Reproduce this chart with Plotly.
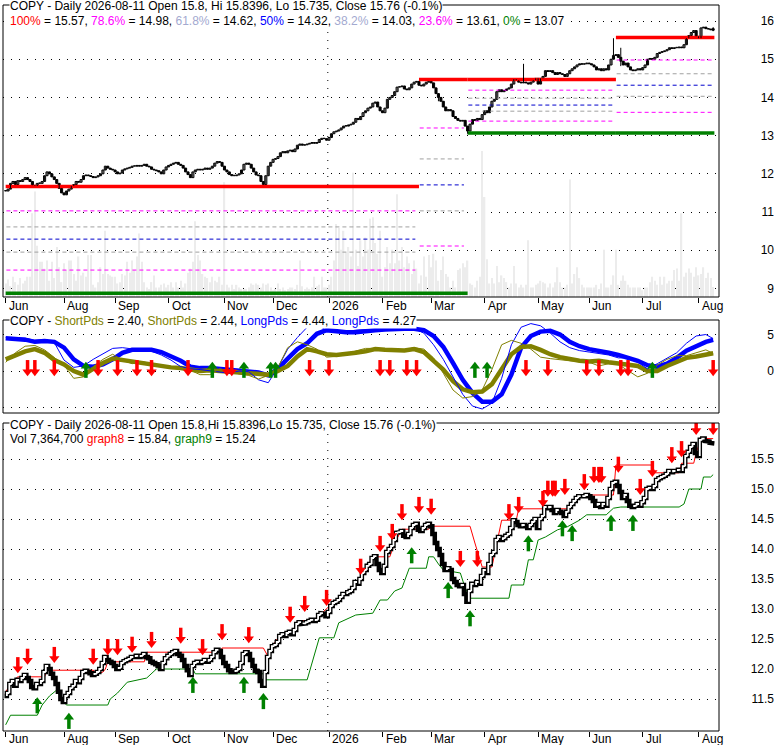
import pandas as pd
import plotly.graph_objects as go

# ---------------------------------------------------------------- data
dates = pd.bdate_range("2025-06-30", "2026-08-11")

close_jul25 = [11.55, 11.6, 11.75, 11.8, 11.72, 11.82, 11.8, 11.85, 11.9, 11.85, 11.8, 11.7,
               11.68, 11.75, 11.75, 11.8, 11.95, 12.05, 12.0, 11.92, 11.85, 11.75, 11.62, 11.5]
close_aug25 = [11.45, 11.55, 11.6, 11.68, 11.72, 11.8, 11.78, 11.85, 11.95, 11.97, 11.95, 11.93,
               11.9, 11.92, 11.95, 12.0, 12.1, 12.2, 12.15, 12.12, 12.1]
close_sep25 = [12.05, 12.0, 12.02, 12.1, 12.13, 12.15, 12.17, 12.2, 12.2, 12.22, 12.2, 12.22,
               12.25, 12.2, 12.18, 12.12, 12.1, 12.08, 12.05, 12.0, 12.1, 12.18]
close_oct25 = [12.22, 12.25, 12.28, 12.3, 12.25, 12.22, 12.15, 12.05, 11.98, 11.9, 12.05, 12.1,
               12.12, 12.1, 12.12, 12.15, 12.12, 12.15, 12.2, 12.28, 12.32, 12.3, 12.2]
close_nov25 = [12.1, 12.05, 11.98, 11.95, 11.95, 11.97, 12.0, 12.1, 12.25, 12.28, 12.25, 12.15,
               12.05, 11.97, 11.95, 11.8, 11.72, 11.95, 12.2, 12.3]
close_dec25 = [12.38, 12.4, 12.45, 12.55, 12.58, 12.55, 12.6, 12.62, 12.58, 12.65, 12.75, 12.78,
               12.75, 12.76, 12.78, 12.8, 12.82, 12.8, 12.82, 12.9, 12.93, 12.92, 12.88]
close_jan26 = [12.95, 13.05, 13.1, 13.12, 13.15, 13.2, 13.25, 13.25, 13.28, 13.3, 13.35, 13.45,
               13.42, 13.5, 13.6, 13.65, 13.72, 13.75, 13.85, 13.88, 13.75, 13.65]
close_feb26 = [13.6, 13.72, 13.95, 14.0, 14.05, 14.15, 14.27, 14.28, 14.3, 14.22, 14.2, 14.25,
               14.35, 14.4, 14.42, 14.32, 14.3, 14.35, 14.4, 14.42]
close_mar26 = [14.38, 14.25, 14.1, 14.0, 13.9, 13.75, 13.65, 13.68, 13.65, 13.5, 13.45, 13.4,
               13.38, 13.4, 13.25, 13.12, 13.3, 13.42, 13.4, 13.45, 13.42, 13.55]
close_apr26 = [13.65, 13.6, 13.75, 13.9, 13.95, 14.15, 14.2, 14.15, 14.18, 14.22, 14.25, 14.35,
               14.48, 14.45, 14.4, 14.38, 14.4, 14.38, 14.35, 14.4, 14.45, 14.5]
close_may26 = [14.35, 14.5, 14.55, 14.7, 14.68, 14.7, 14.65, 14.6, 14.65, 14.62, 14.6, 14.55,
               14.62, 14.7, 14.75, 14.8, 14.85, 14.88, 14.87, 14.88, 14.9]
close_jun26 = [14.88, 14.85, 14.8, 14.72, 14.75, 14.7, 14.75, 14.72, 14.85, 15.0, 15.1, 15.12,
               15.05, 14.95, 14.85, 14.9, 14.8, 14.72, 14.7, 14.72, 14.75, 14.72]
close_jul26 = [14.78, 14.85, 15.0, 15.02, 15.0, 15.05, 15.15, 15.18, 15.2, 15.22, 15.25, 15.3,
               15.28, 15.3, 15.3, 15.32, 15.3, 15.38, 15.55, 15.62, 15.7, 15.75, 15.6]
close_aug26 = [15.55, 15.82, 15.84, 15.8, 15.79, 15.77, 15.76]

closes = (close_jul25 + close_aug25 + close_sep25 + close_oct25 + close_nov25 + close_dec25 +
          close_jan26 + close_feb26 + close_mar26 + close_apr26 + close_may26 + close_jun26 +
          close_jul26 + close_aug26)

# volume, millions of shares
vol_jul25 = [10, 13, 8, 15, 11, 9, 14, 10, 12, 15, 15, 62, 78, 38, 26, 26, 21, 27, 12, 26, 14, 37, 22, 11]
vol_aug25 = [25, 20, 27, 27, 17, 12, 30, 16, 18, 15, 31, 31, 9, 7, 11, 22, 17, 49, 17, 16, 15]
vol_sep25 = [15, 10, 11, 17, 16, 26, 18, 27, 20, 30, 47, 26, 11, 7, 6, 11, 16, 7, 7, 9, 10, 7]
vol_oct25 = [9, 11, 7, 11, 7, 12, 7, 10, 18, 21, 26, 56, 31, 27, 17, 15, 14, 11, 15, 12, 11, 15, 9]
vol_nov25 = [85, 9, 7, 9, 6, 9, 7, 6, 6, 6, 7, 10, 9, 10, 9, 7, 10, 9, 10, 7]
vol_dec25 = [5, 6, 10, 6, 7, 5, 6, 7, 7, 6, 9, 27, 8, 6, 7, 6, 7, 15, 8, 9, 15, 7, 7]
vol_jan26 = [9, 15, 27, 54, 51, 35, 49, 33, 37, 30, 92, 35, 23, 42, 30, 44, 35, 58, 59, 40, 32, 49]
vol_feb26 = [15, 22, 37, 25, 35, 25, 76, 27, 37, 22, 30, 25, 17, 27, 21, 10, 16, 30, 15, 31]
vol_mar26 = [22, 32, 27, 12, 20, 30, 17, 15, 7, 12, 7, 20, 21, 25, 22, 27, 10, 9, 7, 12, 15, 108]
vol_apr26 = [74, 28, 10, 14, 10, 23, 11, 16, 14, 11, 7, 10, 23, 10, 7, 9, 7, 9, 42, 7, 7, 9]
vol_may26 = [10, 12, 11, 10, 7, 10, 7, 11, 22, 11, 7, 7, 9, 87, 10, 17, 22, 14, 9, 7, 7]
vol_jun26 = [7, 7, 7, 9, 6, 10, 35, 7, 7, 9, 16, 35, 9, 12, 16, 12, 9, 7, 7, 7, 7, 7]
vol_jul26 = [5, 7, 7, 11, 15, 12, 9, 15, 9, 15, 10, 12, 12, 20, 21, 12, 62, 15, 18, 21, 18, 15, 22]
vol_aug26 = [16, 17, 22, 14, 18, 14, 7.3647]

volumes = (vol_jul25 + vol_aug25 + vol_sep25 + vol_oct25 + vol_nov25 + vol_dec25 + vol_jan26 +
           vol_feb26 + vol_mar26 + vol_apr26 + vol_may26 + vol_jun26 + vol_jul26 + vol_aug26)

last_open, last_high, last_low = 15.8, 15.8396, 15.735
wick_high = {213: 14.88, 250: 15.55, 253: 15.3}
wick_low = {190: 13.05, 178: 13.9, 253: 14.82}

# fibonacci segments: first bar, last bar, 0% level, 100% level, inner levels (23.6 .. 78.6)
fib_start = [0, 170, 190, 251]
fib_end = [170, 190, 251, 291]
fib_lo = [8.87, 8.87, 13.07, 13.07]
fib_hi = [11.67, 14.47, 14.47, 15.57]
fib_mid = [[9.48, 9.95, 10.29, 10.61, 11.03],
           [10.11, 11.03, 11.71, 12.39, 13.2],
           [13.38, 13.64, 13.8, 13.98, 14.19],
           [13.61, 14.03, 14.32, 14.62, 14.98]]

# oscillator panel, one value every 4 bars (plus the last bar)
osc_idx = list(range(0, 289, 4)) + [291]
long_thick = [4.5, 4.4, 4.3, 4.0, 4.1, 4.0, 3.2, 1.6, 0.7, 0.6, 0.9, 1.6, 2.5, 2.9, 2.9, 2.9, 2.6, 2.0,
              1.4, 0.6, 0.4, 0.4, 0.3, 0.1, 0.1, 0.0, -0.2, -0.6, 0.3, 1.7, 3.0, 3.8, 5.1, 5.6, 5.4, 5.3,
              5.3, 5.5, 5.6, 5.7, 5.8, 5.8, 5.8, 5.6, 4.8, 3.3, 1.1, -1.2, -3.0, -4.2, -4.2, -3.2, -0.5,
              3.2, 4.8, 5.4, 5.5, 5.0, 4.0, 3.4, 3.0, 2.8, 2.5, 2.2, 1.8, 1.4, 0.8, 0.6, 1.0, 1.8, 2.8,
              3.4, 4.0, 4.27]
long_thin = [4.6, 4.6, 4.5, 4.2, 4.3, 3.9, 1.5, 0.5, 0.7, 1.6, 2.4, 3.1, 3.2, 3.0, 2.9, 2.7, 2.2, 1.5,
             0.6, 0.3, 0.2, 0.0, -0.2, -0.3, 0.0, -0.1, -1.2, -1.6, 0.5, 3.0, 4.6, 6.0, 6.3, 5.6, 5.5,
             5.4, 5.6, 5.7, 5.8, 5.8, 5.8, 5.8, 5.8, 5.2, 3.6, 1.6, -0.8, -3.2, -4.8, -5.2, -4.4, -1.0,
             3.6, 6.0, 6.5, 6.2, 5.2, 4.0, 3.2, 2.8, 2.6, 2.4, 2.2, 1.8, 1.8, 1.2, 0.3, 1.0, 1.7, 2.5,
             3.8, 4.8, 5.0, 4.44]
short_thick = [1.6, 2.2, 2.7, 3.0, 2.5, 1.5, 0.9, 0.0, -0.5, 0.3, 1.1, 1.7, 1.5, 1.3, 1.1, 0.9, 0.6,
               0.5, 0.4, 0.2, 0.0, 0.1, 0.0, -0.2, -0.3, -0.4, -0.5, -0.5, 0.0, 0.7, 2.0, 3.0, 2.7, 2.3,
               2.2, 2.3, 2.5, 2.7, 3.0, 2.9, 2.8, 2.8, 3.0, 2.6, 1.4, 0.2, -1.4, -2.5, -2.9, -2.8, -1.8,
               0.2, 2.3, 3.3, 3.4, 2.9, 2.3, 1.9, 1.6, 1.4, 1.3, 1.4, 1.2, 1.0, 0.9, 0.7, 0.0, 0.0, 0.7,
               1.3, 1.8, 2.0, 2.3, 2.44]
short_thin = [1.2, 2.5, 3.4, 3.5, 2.9, 1.8, 0.8, -1.0, -0.8, 0.6, 1.6, 2.3, 1.5, 1.0, 1.3, 1.0, 0.7,
              0.6, 0.5, 0.1, -0.5, -0.5, 0.3, 0.0, -0.4, -0.6, -1.1, -0.6, 0.5, 3.2, 4.0, 3.6, 3.0, 1.9,
              2.0, 2.4, 2.8, 3.1, 3.1, 3.0, 2.9, 2.9, 3.2, 3.0, 1.8, -0.3, -2.6, -3.7, -3.5, -2.6, 0.2,
              3.6, 4.2, 3.8, 3.0, 1.9, 1.7, 1.5, 1.4, 1.3, 1.2, 0.7, 1.0, 0.9, 0.0, -0.8, -0.3, 0.8, 1.6,
              2.1, 2.1, 2.5, 2.9, 2.4]
osc_sell = [9, 12, 20, 38, 46, 54, 60, 75, 91, 93, 125, 133, 154, 158, 165, 169, 214, 223, 239, 244,
            253, 256, 291]
osc_buy = [33, 85, 98, 109, 111, 193, 198, 266]

# bottom panel: red / green bands (bar, value) and arrow signals (bar, tip price)
graph8 = [(0, 11.62), (3, 11.8), (5, 11.87), (16, 11.87), (17, 11.98), (36, 11.98), (38, 11.92),
          (40, 11.95), (41, 12.0), (42, 12.12), (57, 12.12), (58, 12.28), (88, 12.28), (89, 12.35),
          (106, 12.35), (108, 12.2), (110, 12.4), (113, 12.58), (118, 12.62), (120, 12.8), (128, 12.82),
          (130, 12.93), (134, 13.08), (139, 13.25), (143, 13.35), (146, 13.5), (149, 13.72),
          (151, 13.87), (158, 13.87), (160, 14.1), (163, 14.33), (174, 14.33), (175, 14.38),
          (191, 14.38), (193, 14.1), (196, 13.7), (200, 13.7), (202, 14.1), (204, 14.48), (210, 14.48),
          (211, 14.67), (231, 14.67), (233, 14.72), (235, 14.9), (250, 14.9), (251, 15.4), (266, 15.4),
          (267, 15.27), (277, 15.27), (278, 15.43), (283, 15.43), (284, 15.6), (286, 15.84), (291, 15.84)]
graph9 = [(0, 11.07), (2, 11.23), (13, 11.23), (15, 11.4), (18, 11.55), (21, 11.65), (23, 11.5),
          (25, 11.4), (42, 11.4), (43, 11.5), (46, 11.6), (50, 11.78), (58, 11.85), (62, 12.0),
          (77, 12.0), (78, 11.92), (106, 11.92), (107, 11.82), (124, 11.82), (126, 12.1), (128, 12.35),
          (129, 12.52), (135, 12.52), (137, 12.77), (144, 12.9), (151, 12.93), (154, 13.15),
          (157, 13.15), (160, 13.3), (163, 13.35), (166, 13.68), (173, 13.68), (174, 13.87),
          (176, 13.87), (178, 13.75), (180, 13.65), (187, 13.6), (189, 13.35), (191, 13.18),
          (207, 13.18), (208, 13.4), (213, 13.4), (215, 13.82), (217, 13.82), (219, 14.15), (222, 14.2),
          (227, 14.32), (231, 14.37), (236, 14.48), (239, 14.57), (247, 14.57), (250, 14.68),
          (253, 14.7), (277, 14.7), (279, 14.75), (281, 15.0), (286, 15.0), (287, 15.2), (290, 15.2),
          (291, 15.24)]
sell_sig = [(5, 11.93), (9, 12.07), (20, 12.1), (36, 12.07), (42, 12.23), (46, 12.23), (52, 12.27),
            (60, 12.35), (72, 12.42), (81, 12.23), (89, 12.48), (100, 12.43), (117, 12.77), (123, 12.95),
            (132, 13.05), (146, 13.57), (154, 13.95), (159, 14.15), (163, 14.48), (170, 14.6),
            (175, 14.57), (187, 13.7), (194, 13.7), (207, 14.48), (211, 14.6), (221, 14.7), (223, 14.87),
            (225, 14.87), (226, 14.87), (230, 14.9), (238, 14.98), (242, 15.1), (244, 15.1), (245, 15.1),
            (252, 15.27), (261, 14.9), (266, 15.2), (274, 15.43), (278, 15.53), (284, 15.9), (291, 15.9)]
buy_sig = [(13, 11.53), (26, 11.27), (77, 11.87), (98, 11.87), (106, 11.6), (167, 14.03), (182, 13.45),
           (191, 12.98), (215, 14.23), (229, 14.48), (233, 14.4), (249, 14.57), (258, 14.57)]

month_dates = ["2025-06-30", "2025-08-01", "2025-09-01", "2025-10-01", "2025-11-03", "2025-12-01",
               "2026-01-01", "2026-02-02", "2026-03-02", "2026-04-01", "2026-05-01", "2026-06-01",
               "2026-07-01", "2026-08-03"]
month_labels = ["Jun", "Aug", "Sep", "Oct", "Nov", "Dec", "2026", "Feb", "Mar", "Apr", "May", "Jun",
                "Jul", "Aug"]

# ---------------------------------------------------------------- geometry
ML, PW, PH = 3, 777, 731          # plot area (page is 780 x 745)
def fx(px): return (px - ML) / PW
def fy(py): return 1 - py / PH

P1, P2, P3 = (5, 297), (320, 413), (423, 731)
R1, R2, R3 = [8.775, 16.42], [-5.75, 6.99], [10.967, 16.1]
XR = [-1.1, 293.4]
XDOM = [0, fx(719)]
ppu2 = (P2[1] - P2[0]) / (R2[1] - R2[0])
ppu3 = (P3[1] - P3[0]) / (R3[1] - R3[0])

FONT = "Arial, Liberation Sans, sans-serif"
RED, GREEN, MAG, GRAY, BLUE, OLIVE = "#ff0000", "#008000", "#ff00ff", "#a0a0a0", "#0000cc", "#808000"

N = len(closes)
idx = list(range(N))
tick_idx = [int(dates.searchsorted(pd.Timestamp(d))) for d in month_dates]
year_idx = tick_idx[6]

opens = [closes[0]] + closes[:-1]
opens[-1] = last_open
highs = [max(o, c) for o, c in zip(opens, closes)]
lows = [min(o, c) for o, c in zip(opens, closes)]
for k, v in wick_high.items():
    highs[k] = v
for k, v in wick_low.items():
    lows[k] = v
highs[-1], lows[-1] = last_high, last_low

fig = go.Figure()

# ---- top panel: volume, fibonacci levels, candles
fig.add_trace(go.Bar(x=idx, y=volumes, xaxis="x", yaxis="y", marker_color="#ececec",
                     marker_line_width=0, width=0.55, hoverinfo="skip"))

mid_colors = [MAG, GRAY, BLUE, GRAY, MAG]
for s, e, lo, hi, mids in zip(fib_start, fib_end, fib_lo, fib_hi, fib_mid):
    last = e == fib_end[-1]
    x1 = e + 0.5 if last else e
    d0, d1 = s + 0.3, (e + 0.5 if last else e - 1.5)
    for lvl, col in zip(mids, mid_colors):
        fig.add_trace(go.Scatter(x=[d0, d1], y=[lvl, lvl], mode="lines", xaxis="x", yaxis="y2",
                                 line=dict(color=col, width=1, dash="4px,3px"), hoverinfo="skip"))
    fig.add_trace(go.Scatter(x=[s, x1], y=[hi, hi], mode="lines", xaxis="x", yaxis="y2",
                             line=dict(color=RED, width=3.5), hoverinfo="skip"))
    fig.add_trace(go.Scatter(x=[s, x1], y=[lo, lo], mode="lines", xaxis="x", yaxis="y2",
                             line=dict(color=GREEN, width=3.5), hoverinfo="skip"))

# candles drawn by hand: wicks as line segments, bodies as floating bars
wx, wy = [], []
for i in idx:
    wx += [i, i, None]
    wy += [lows[i], highs[i], None]
fig.add_trace(go.Scatter(x=wx, y=wy, mode="lines", xaxis="x", yaxis="y2",
                         line=dict(color="black", width=1), hoverinfo="skip"))
fig.add_trace(go.Bar(
    x=idx, base=[min(o, c) for o, c in zip(opens, closes)],
    y=[max(abs(c - o), 0.012) for o, c in zip(opens, closes)],
    xaxis="x", yaxis="y2", width=0.85,
    marker=dict(color=["white" if c >= o else "black" for o, c in zip(opens, closes)],
                line=dict(color="black", width=1)), hoverinfo="skip"))

# ---- middle panel: oscillators
for vals, col, w in [(long_thick, "#0000ff", 4.5), (short_thick, OLIVE, 4.5),
                     (long_thin, "#0000ff", 1), (short_thin, OLIVE, 1)]:
    fig.add_trace(go.Scatter(x=osc_idx, y=vals, mode="lines", xaxis="x2", yaxis="y3",
                             line=dict(color=col, width=w), hoverinfo="skip"))


def add_arrows(xs, tips, down, color, xa, ya, ppu):
    sgn = 1 if down else -1
    fig.add_trace(go.Scatter(
        x=xs, y=[t + sgn * 10.5 / ppu for t in tips], mode="markers", xaxis=xa, yaxis=ya,
        marker=dict(symbol="line-ns", size=8, line=dict(width=3.5, color=color)), hoverinfo="skip"))
    fig.add_trace(go.Scatter(
        x=xs, y=[t + sgn * 4.5 / ppu for t in tips], mode="markers", xaxis=xa, yaxis=ya,
        marker=dict(symbol="triangle-down" if down else "triangle-up", size=9, color=color,
                    line=dict(width=0)), hoverinfo="skip"))


add_arrows(osc_sell, [-0.7] * len(osc_sell), True, RED, "x2", "y3", ppu2)
add_arrows(osc_buy, [1.27] * len(osc_buy), False, GREEN, "x2", "y3", ppu2)

# ---- bottom panel: bands, step price, signals
fig.add_trace(go.Scatter(x=[p[0] for p in graph8], y=[p[1] for p in graph8], mode="lines",
                         xaxis="x3", yaxis="y4", line=dict(color=RED, width=1), hoverinfo="skip"))
fig.add_trace(go.Scatter(x=[p[0] for p in graph9], y=[p[1] for p in graph9], mode="lines",
                         xaxis="x3", yaxis="y4", line=dict(color=GREEN, width=1), hoverinfo="skip"))

sx, sy = [], []
for i, c in enumerate(closes):
    sx += [i - 0.5, i + 0.5]
    sy += [c, c]
hx, hy = [], []
for i in range(1, N):
    if closes[i] > closes[i - 1]:
        hx += [i - 0.5, i - 0.5, i + 0.5, None]
        hy += [closes[i - 1], closes[i], closes[i], None]
fig.add_trace(go.Scatter(x=sx, y=sy, mode="lines", xaxis="x3", yaxis="y4",
                         line=dict(color="black", width=4.5), hoverinfo="skip"))
fig.add_trace(go.Scatter(x=hx, y=hy, mode="lines", xaxis="x3", yaxis="y4",
                         line=dict(color="white", width=1.8), hoverinfo="skip"))

add_arrows([p[0] for p in sell_sig], [p[1] for p in sell_sig], True, RED, "x3", "y4", ppu3)
add_arrows([p[0] for p in buy_sig], [p[1] for p in buy_sig], False, GREEN, "x3", "y4", ppu3)

# ---- axes
grid = dict(showgrid=True, gridcolor="black", gridwidth=1, griddash="1px,7px", zeroline=False,
            showline=False, ticks="", anchor="free", position=fx(777), side="right",
            ticklabelposition="inside", tickfont=dict(size=12, color="black"), fixedrange=True)
xcommon = dict(range=XR, domain=XDOM, showgrid=False, zeroline=False, showline=False,
               tickvals=tick_idx, showticklabels=False, fixedrange=True)

fig.update_layout(
    width=780, height=745, template="none", showlegend=False, barmode="overlay",
    margin=dict(l=ML, r=780 - ML - PW, t=0, b=745 - PH),
    paper_bgcolor="white", plot_bgcolor="white",
    font=dict(family=FONT, size=12, color="black"),
    xaxis=dict(anchor="y", ticks="outside", ticklen=5, tickcolor="black",
               rangeslider=dict(visible=False), **xcommon),
    xaxis2=dict(anchor="y3", matches="x", ticks="", **xcommon),
    xaxis3=dict(anchor="y4", matches="x", ticks="outside", ticklen=5, tickcolor="black", **xcommon),
    yaxis=dict(domain=[fy(P1[1]), fy(P1[0])], range=[0, (P1[1] - P1[0]) * 0.74], visible=False,
               fixedrange=True),
    yaxis2=dict(overlaying="y", range=R1, tickvals=list(range(9, 17)), **grid),
    yaxis3=dict(domain=[fy(P2[1]), fy(P2[0])], range=R2, tickvals=[-5, 0, 5], **grid),
    yaxis4=dict(domain=[0, fy(P3[0])], range=R3, tickvals=[11.5 + 0.5 * k for k in range(10)],
                tickformat=".1f", **grid),
)

# frames and the year divider
shapes = []
for top, bot in (P1, P2, P3):
    shapes.append(dict(type="rect", xref="paper", yref="paper", x0=XDOM[0], x1=XDOM[1],
                       y0=fy(bot), y1=fy(top), line=dict(color="black", width=1), layer="above"))
for xa, ya in (("x", "y"), ("x3", "y4")):
    shapes.append(dict(type="line", xref=xa, yref=ya + " domain", x0=year_idx - 0.5,
                       x1=year_idx - 0.5, y0=0, y1=1, layer="below",
                       line=dict(color="black", width=1, dash="1px,7px")))
fig.update_layout(shapes=shapes)

# month labels beside the tick marks (under the top and bottom panels)
for ti, lab in zip(tick_idx, month_labels):
    for xa, ypx in (("x", 306), ("x3", 739)):
        fig.add_annotation(text=lab, xref=xa, yref="paper", x=ti, y=fy(ypx), xanchor="left",
                           yanchor="middle", xshift=1, showarrow=False,
                           font=dict(size=12, color="black", family=FONT))


def sp(col, txt):
    return f"<span style='color:{col}'>{txt}</span>"


LIGHT = "#a3a9d0"
head = "COPY - Daily 2026-08-11 Open 15.8, Hi 15.8396, Lo 15.735, Close 15.76 (-0.1%)"
fibtxt = (f"{sp(RED, '100%')} = 15.57, {sp(MAG, '78.6%')} = 14.98, {sp(LIGHT, '61.8%')} = 14.62, "
          f"{sp('#0000ff', '50%')} = 14.32, {sp(LIGHT, '38.2%')} = 14.03, {sp(MAG, '23.6%')} = 13.61, "
          f"{sp(GREEN, '0%')} = 13.07")
osctxt = (f"COPY - {sp(OLIVE, 'ShortPds')} = 2.40, {sp(OLIVE, 'ShortPds')} = 2.44, "
          f"{sp('#0000ff', 'LongPds')} = 4.44, {sp('#0000ff', 'LongPds')} = 4.27")
head3 = "COPY - Daily 2026-08-11 Open 15.8,Hi 15.8396,Lo 15.735, Close 15.76 (-0.1%)"
voltxt = f"Vol 7,364,700 {sp(RED, 'graph8')} = 15.84, {sp(GREEN, 'graph9')} = 15.24"

for txt, ypx in [(head, 6), (fibtxt, 21), (osctxt, 321), (head3, 425), (voltxt, 439)]:
    fig.add_annotation(text=txt, xref="paper", yref="paper", x=fx(9), y=fy(ypx), xanchor="left",
                       yanchor="middle", showarrow=False, bgcolor="white", borderpad=0,
                       font=dict(size=12, color="black", family=FONT))

# the page body keeps a default 8px margin; drop it so the figure sits at the page origin
fig.write_html("out.html", config={"displayModeBar": False},
               post_script="document.body.style.margin='0px';")
